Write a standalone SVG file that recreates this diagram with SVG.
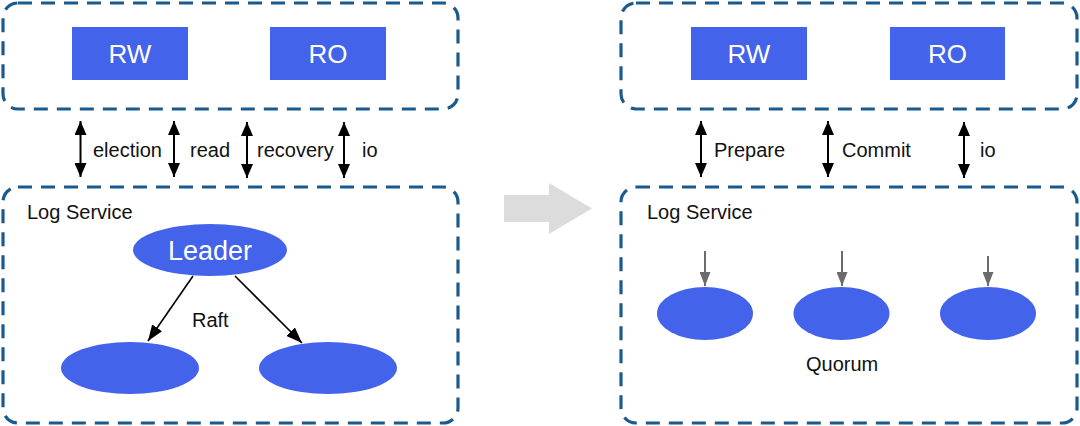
<svg xmlns="http://www.w3.org/2000/svg" width="1080" height="426" viewBox="0 0 1080 426">
<style>
.box{fill:none;stroke:#1b5a8c;stroke-width:3.2;stroke-dasharray:14 9}
.node{fill:#4363ea}
.wt{fill:#ffffff;font-family:"Liberation Sans",Arial,sans-serif;text-anchor:middle}
.lbl{fill:#111;font-family:"Liberation Sans",Arial,sans-serif;font-size:20px}
.dbl{stroke:#000;stroke-width:2;fill:none;marker-start:url(#ah);marker-end:url(#ah)}
.raft{stroke:#000;stroke-width:1.6;fill:none;marker-end:url(#ah2)}
.gry{stroke:#6b6b6b;stroke-width:2;fill:none;marker-end:url(#ah3)}
</style>
<defs>
<marker id="ah" viewBox="0 0 14 12" refX="14" refY="6" markerWidth="14" markerHeight="12" markerUnits="userSpaceOnUse" orient="auto-start-reverse"><path d="M0,0 L14,6 L0,12 z" fill="#000"/></marker>
<marker id="ah2" viewBox="0 0 16 12" refX="16" refY="6" markerWidth="16" markerHeight="12" markerUnits="userSpaceOnUse" orient="auto"><path d="M0,0 L16,6 L0,12 z" fill="#000"/></marker>
<marker id="ah3" viewBox="0 0 14 11" refX="14" refY="5.5" markerWidth="14" markerHeight="11" markerUnits="userSpaceOnUse" orient="auto"><path d="M0,0 L14,5.5 L0,11 z" fill="#6b6b6b"/></marker>
</defs>
<rect width="1080" height="426" fill="#ffffff"/>

<!-- Left side -->
<g id="left-top-group"><rect class="box" x="3" y="3" width="455" height="106" rx="15"/></g>
<g id="left-rw"><rect class="node" x="72" y="27" width="116" height="53"/><text class="wt" x="130" y="63" font-size="26">RW</text></g>
<g id="left-ro"><rect class="node" x="270" y="27" width="116" height="53"/><text class="wt" x="328" y="63" font-size="26">RO</text></g>
<g id="left-log-service"><rect class="box" x="3" y="187" width="455" height="236" rx="15"/><text class="lbl" x="27" y="219">Log Service</text></g>
<g id="leader"><ellipse class="node" cx="210" cy="250" rx="77" ry="26"/><text class="wt" x="210" y="260" font-size="27">Leader</text></g>
<g id="follower1"><ellipse class="node" cx="130" cy="368" rx="69" ry="26"/></g>
<g id="follower2"><ellipse class="node" cx="328" cy="368" rx="69" ry="26"/></g>

<!-- Right side -->
<g id="right-top-group"><rect class="box" x="621" y="3" width="456" height="106" rx="15"/></g>
<g id="right-rw"><rect class="node" x="691" y="27" width="116" height="53"/><text class="wt" x="749" y="63" font-size="26">RW</text></g>
<g id="right-ro"><rect class="node" x="890" y="27" width="115" height="53"/><text class="wt" x="947.5" y="63" font-size="26">RO</text></g>
<g id="right-log-service"><rect class="box" x="621" y="187" width="456" height="236" rx="15"/><text class="lbl" x="647" y="219">Log Service</text></g>
<g id="replica1"><ellipse class="node" cx="705" cy="313.5" rx="48" ry="26.5"/></g>
<g id="replica2"><ellipse class="node" cx="841.5" cy="313.5" rx="48" ry="26.5"/></g>
<g id="replica3"><ellipse class="node" cx="988" cy="313.5" rx="48" ry="26.5"/></g>
<text class="lbl" x="806" y="371">Quorum</text>

<!-- Transition arrow -->
<g id="transition-arrow"><polygon points="504,195 549,195 549,183 592,208.5 549,234 549,222 504,222" fill="#dcdcdc"/></g>

<!-- Connectors -->
<g id="connectors">
<line class="dbl" x1="80.5" y1="121" x2="80.5" y2="177"/>
<line class="dbl" x1="174" y1="121" x2="174" y2="177"/>
<line class="dbl" x1="247" y1="122" x2="247" y2="178"/>
<line class="dbl" x1="344" y1="122" x2="344" y2="178"/>
<line class="raft" x1="193" y1="276" x2="148" y2="341"/>
<line class="raft" x1="235" y1="276" x2="302" y2="343"/>
<line class="dbl" x1="701" y1="121" x2="701" y2="177"/>
<line class="dbl" x1="828" y1="121" x2="828" y2="177"/>
<line class="dbl" x1="964" y1="122" x2="964" y2="178"/>
<line class="gry" x1="705" y1="251" x2="705" y2="286"/>
<line class="gry" x1="842" y1="251" x2="842" y2="286"/>
<line class="gry" x1="988" y1="256" x2="988" y2="286"/>
</g>
<g id="connector-labels">
<text class="lbl" x="93" y="157">election</text>
<text class="lbl" x="190" y="157">read</text>
<text class="lbl" x="257" y="157">recovery</text>
<text class="lbl" x="362" y="157">io</text>
<text class="lbl" x="192" y="327">Raft</text>
<text class="lbl" x="714" y="157">Prepare</text>
<text class="lbl" x="842" y="157">Commit</text>
<text class="lbl" x="980" y="157">io</text>
</g>
</svg>
